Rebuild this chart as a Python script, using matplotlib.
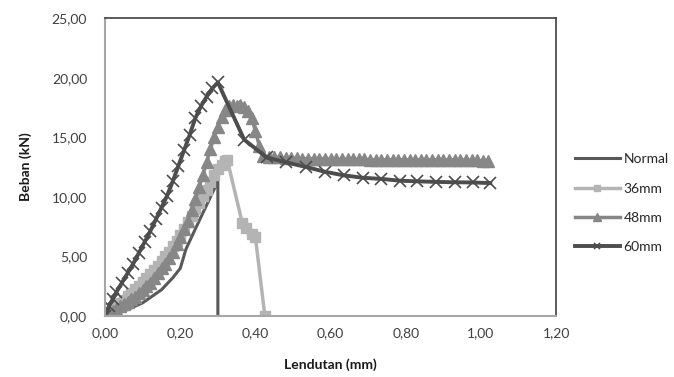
import matplotlib
matplotlib.use("Agg")
import matplotlib.pyplot as plt
from matplotlib.ticker import FuncFormatter

plt.rcParams['font.family'] = ['Lato', 'DejaVu Sans']

# ---- data ----
normal_x = [0.00, 0.05, 0.10, 0.15, 0.18, 0.20, 0.215, 0.24, 0.27, 0.30, 0.30]
normal_y = [0.00, 0.40, 1.10, 2.20, 3.20, 4.00, 5.60, 7.30, 9.30, 11.30, 0.00]

mm36_x = [0.00, 0.01, 0.02, 0.03, 0.04, 0.05, 0.06, 0.07, 0.08, 0.09, 0.10,
          0.11, 0.12, 0.13, 0.14, 0.15, 0.16, 0.17, 0.18, 0.19, 0.20,
          0.21, 0.22, 0.23, 0.24, 0.25, 0.26, 0.27, 0.28, 0.29, 0.30,
          0.31, 0.32, 0.325, 0.365, 0.375, 0.39, 0.40, 0.425]
mm36_y = [0.00, 0.20, 0.45, 0.75, 1.05, 1.35, 1.65, 1.95, 2.25, 2.55, 2.85,
          3.15, 3.50, 3.85, 4.20, 4.60, 5.00, 5.40, 5.85, 6.30, 6.80,
          7.30, 7.85, 8.40, 8.95, 9.50, 10.05, 10.60, 11.20, 11.80, 12.30,
          12.70, 13.00, 13.10, 7.80, 7.40, 6.90, 6.60, 0.00]

mm48_x = [0.00, 0.01, 0.02, 0.03, 0.04, 0.05, 0.06, 0.07, 0.08, 0.09, 0.10,
          0.11, 0.12, 0.13, 0.14, 0.15, 0.16, 0.17, 0.18, 0.19, 0.20,
          0.21, 0.22, 0.23, 0.24, 0.25, 0.26, 0.27, 0.28, 0.29, 0.30,
          0.31, 0.32, 0.33, 0.34, 0.35, 0.36, 0.37, 0.38, 0.39, 0.40,
          0.41, 0.42, 0.435, 0.45, 0.465, 0.48, 0.495, 0.51, 0.525, 0.54,
          0.555, 0.57, 0.585, 0.60, 0.615, 0.63, 0.645, 0.66, 0.675, 0.69,
          0.705, 0.72, 0.735, 0.75, 0.765, 0.78, 0.795, 0.81, 0.825, 0.84,
          0.855, 0.87, 0.885, 0.90, 0.915, 0.93, 0.945, 0.96, 0.975, 0.99,
          1.005, 1.02]
mm48_y = [0.00, 0.20, 0.40, 0.60, 0.80, 1.00, 1.20, 1.40, 1.60, 1.90, 2.20,
          2.50, 2.80, 3.20, 3.60, 4.00, 4.40, 4.90, 5.40, 6.00, 6.60,
          7.30, 8.00, 8.90, 9.80, 10.80, 11.80, 12.90, 14.00, 15.00, 15.90,
          16.70, 17.30, 17.60, 17.70, 17.60, 17.70, 17.50, 17.20, 16.60, 15.50,
          14.30, 13.40, 13.35, 13.30, 13.30, 13.25, 13.25, 13.25, 13.20, 13.20,
          13.20, 13.20, 13.20, 13.15, 13.15, 13.15, 13.15, 13.15, 13.15, 13.15,
          13.10, 13.10, 13.10, 13.10, 13.10, 13.10, 13.10, 13.10, 13.10, 13.10,
          13.10, 13.10, 13.10, 13.10, 13.10, 13.10, 13.10, 13.10, 13.05, 13.05,
          13.00, 13.00]

mm60_x = [0.00, 0.01, 0.02, 0.03, 0.045, 0.06, 0.075, 0.09, 0.105, 0.12,
          0.135, 0.15, 0.165, 0.18, 0.195, 0.21, 0.225, 0.24, 0.255, 0.27,
          0.285, 0.30, 0.37, 0.43, 0.48, 0.535, 0.585, 0.635, 0.685, 0.735,
          0.785, 0.83, 0.88, 0.93, 0.98, 1.025]
mm60_y = [0.00, 0.80, 1.40, 2.00, 2.80, 3.60, 4.40, 5.30, 6.20, 7.10,
          8.10, 9.10, 10.10, 11.30, 12.60, 13.90, 15.20, 16.60, 17.60, 18.40,
          19.10, 19.60, 14.80, 13.30, 12.90, 12.50, 12.10, 11.80, 11.60, 11.50,
          11.35, 11.30, 11.25, 11.22, 11.20, 11.15]

series_labels = ['Normal', '36mm', '48mm', '60mm']
x_ticks = [0.0, 0.2, 0.4, 0.6, 0.8, 1.0, 1.2]
y_ticks = [0, 5, 10, 15, 20, 25]

# ---- figure ----
fig = plt.figure(figsize=(6.74, 3.77), dpi=100)
ax = fig.add_axes([0.156, 0.162, 0.669, 0.790])

ax.plot(normal_x, normal_y, color='#595959', lw=2.2, label=series_labels[0],
        solid_joinstyle='round')
ax.plot(mm36_x, mm36_y, color='#b4b4b4', lw=2.5, marker='s', ms=7.5,
        mec='#b4b4b4', mfc='#b4b4b4', label=series_labels[1])
ax.plot(mm48_x, mm48_y, color='#878787', lw=2.5, marker='^', ms=9,
        mec='#878787', mfc='#878787', label=series_labels[2])
ax.plot(mm60_x, mm60_y, color='#4d4d4d', lw=2.8, marker='x', ms=8, mew=1.2,
        mec='#4d4d4d', label=series_labels[3])

ax.set_xlim(0, 1.2)
ax.set_ylim(0, 25)
ax.set_xticks(x_ticks)
ax.set_yticks(y_ticks)
fmt = FuncFormatter(lambda v, p: f"{v:.2f}".replace('.', ','))
ax.xaxis.set_major_formatter(fmt)
ax.yaxis.set_major_formatter(fmt)
ax.tick_params(length=0, labelsize=10, colors='#404040')
ax.tick_params(axis='y', pad=13)
ax.tick_params(axis='x', pad=8)

for s in ['top', 'right']:
    ax.spines[s].set_color('#404040')
    ax.spines[s].set_linewidth(1.2)
for s in ['left', 'bottom']:
    ax.spines[s].set_color('#a6a6a6')
    ax.spines[s].set_linewidth(1.5)

ax.set_xlabel('Lendutan (mm)', fontsize=10, fontweight='bold', labelpad=14,
              color='#1a1a1a')
ax.set_ylabel('Beban (kN)', fontsize=10, fontweight='bold', labelpad=14,
              color='#1a1a1a')

leg = ax.legend(loc='upper left', bbox_to_anchor=(0.843, 0.612),
                bbox_transform=fig.transFigure, frameon=False, fontsize=10,
                handlelength=3.2, handletextpad=0.3, labelspacing=1.25,
                borderpad=0, markerscale=0.6)
for t in leg.get_texts():
    t.set_color('#262626')

fig.savefig('out.png', dpi=100)
